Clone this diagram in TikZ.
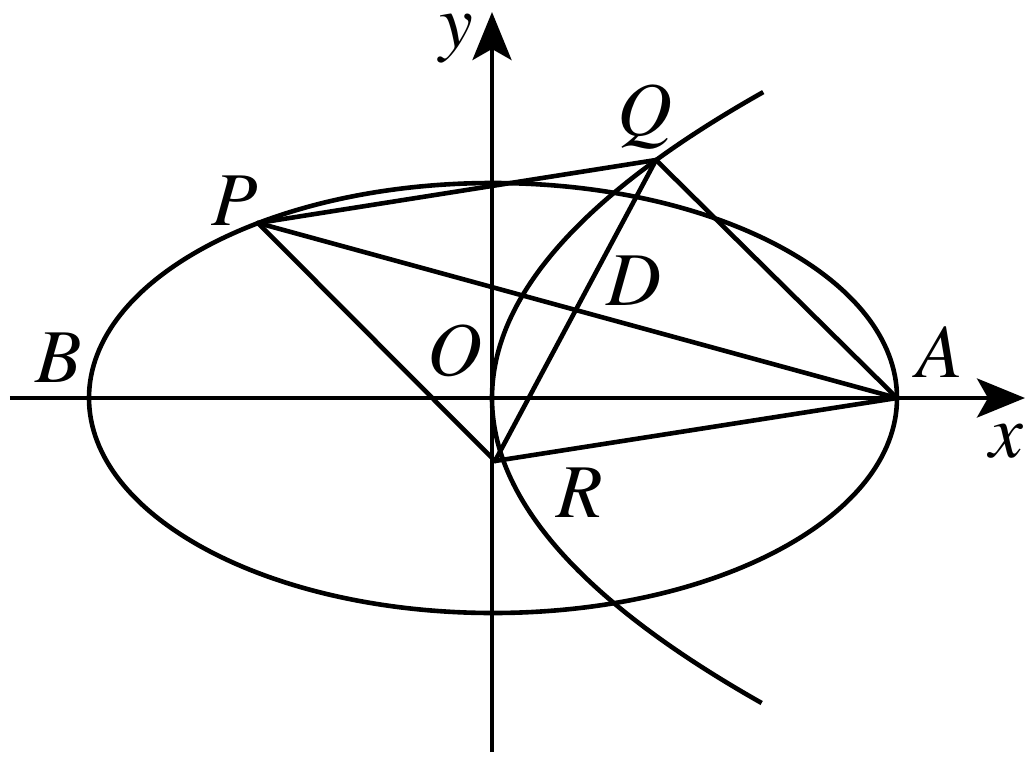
\documentclass[tikz,border=0pt]{standalone}
\usepackage{mathptmx}
\usetikzlibrary{arrows.meta}
\begin{document}
\begin{tikzpicture}[x=1pt,y=1pt,
  curve/.style={line width=4.6pt},
  axis/.style={line width=4.3pt,-{Stealth[length=48pt,width=39pt,inset=11pt]}},
  seg/.style={line width=4.6pt,line join=round,line cap=round},
  lab/.style={anchor=base,inner sep=0pt,font=\fontsize{76}{80}\selectfont}]
\useasboundingbox (-492,-366) rectangle (543,398);
% points
\coordinate (O) at (0,0);
\coordinate (A) at (405,0);
\coordinate (B) at (-403,0);
\coordinate (P) at (-234,175);
\coordinate (Q) at (164,238);
\coordinate (R) at (3,-63);
\coordinate (xs) at (-482,0);
\coordinate (xe) at (533,0);
\coordinate (ys) at (0,-354);
\coordinate (ye) at (0,386);
% axes
\draw[axis] (xs) -- (xe);
\draw[axis] (ys) -- (ye);
% ellipse
\draw[curve] (1,0) ellipse [x radius=404, y radius=215];
% parabola y^2 = 345 x
\draw[curve] plot[domain=-3.05:3.06, samples=160, smooth] ({\x*\x*100/3.45},{\x*100});
% segments
\draw[seg] (P) -- (Q);
\draw[seg] (P) -- (A);
\draw[seg] (P) -- (R);
\draw[seg] (Q) -- (A);
\draw[seg] (Q) -- (R);
\draw[seg] (R) -- (A);
% labels
\node[lab] (lx) at (514,-59) {$x$};
\node[lab] (ly) at (-36,350) {$y$};
\node[lab] (lA) at (448,21) {$A$};
\node[lab] (lB) at (-433,16) {$B$};
\node[lab] (lO) at (-37,23) {$O$};
\node[lab] (lR) at (88,-119) {$R$};
\node[lab] (lP) at (-257,173) {$P$};
\node[lab] (lD) at (142,93) {$D$};
\node[lab] (lQ) at (153,263) {$Q$};
\end{tikzpicture}
\end{document}
